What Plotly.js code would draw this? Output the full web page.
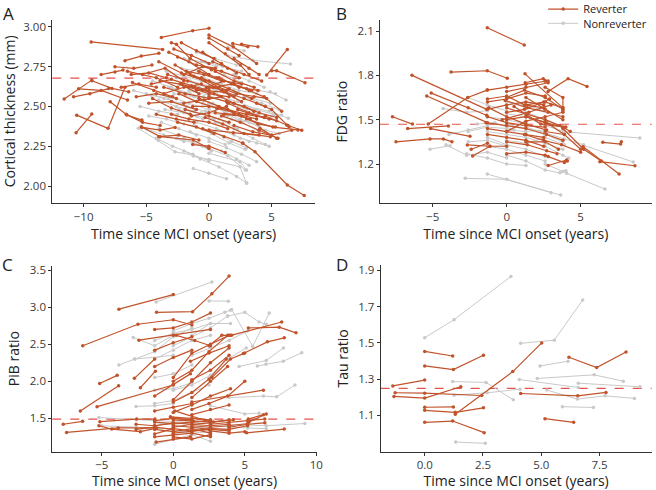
<!DOCTYPE html>
<html>
<head>
<meta charset="utf-8">
<script src="https://cdn.plot.ly/plotly-3.0.1.min.js"></script>
<style>html,body{margin:0;padding:0;background:#fff;}#chart{width:656px;height:490px;}</style>
</head>
<body>
<div id="chart"></div>
<script>
// ---------- DATA (time since MCI onset, value) per participant ----------
const thicknessReverter = [
 [[-9.4,2.905],[-3.7,2.858]],
 [[-3.8,2.933],[-1.3,2.975],[0,2.99]],
 [[-11.55,2.546],[-9.35,2.665]],
 [[-10.8,2.56],[-9.5,2.58],[-8.0,2.612]],
 [[-10.55,2.445],[-8.05,2.362],[-6.7,2.62]],
 [[-10.6,2.335],[-9.35,2.452]],
 [[-10.4,2.61],[-8.6,2.60],[-6.5,2.54]],
 [[-6.7,2.787],[-5.4,2.816],[-4.0,2.833]],
 [[-7.5,2.749],[-6.0,2.739],[-4.55,2.76]],
 [[-8.6,2.70],[-7.5,2.716],[-6.86,2.728]],
 [[-9.34,2.661],[-7.74,2.613],[-6.41,2.592]],
 [[-7.88,2.529],[-6.55,2.446],[-5.35,2.414]],
 [[-5.35,2.368],[-3.9,2.351],[-2.7,2.368]],
 [[-4.0,2.31],[-2.4,2.32],[-0.8,2.289]],
 [[-5.4,2.372],[-3.9,2.31],[-1.25,2.289],[0,2.236]],
 [[-6.5,2.72],[-4.2,2.68],[-2.5,2.62]],
 [[-5.3,2.70],[-3.5,2.74],[-2.0,2.66]],
 [[-6.1,2.65],[-4.4,2.60],[-2.9,2.56]],
 [[-4.5,2.55],[-3.0,2.49],[-1.5,2.45]],
 [[-3.0,2.90],[-2.6,2.89],[-1.5,2.80],[0.2,2.73]],
 [[-3.2,2.84],[-1.6,2.78],[0,2.70]],
 [[-2.7,2.76],[-1.2,2.69],[0.5,2.62],[2.0,2.56]],
 [[-4.0,2.78],[-2.2,2.71],[-0.3,2.66]],
 [[-2.2,2.64],[-0.5,2.60],[1.2,2.59],[2.6,2.53]],
 [[-3.6,2.62],[-1.9,2.58],[0,2.55]],
 [[-1.5,2.70],[0,2.66],[1.6,2.61],[3.4,2.55]],
 [[-0.8,2.55],[0.8,2.50],[2.4,2.45],[3.8,2.42]],
 [[-1.9,2.48],[0,2.44],[1.6,2.40]],
 [[-2.5,2.40],[-1.0,2.37],[0.4,2.33]],
 [[0,2.948],[1.94,2.874],[3.8,2.77]],
 [[1.9,2.895],[3.1,2.874]],
 [[2.6,2.891],[3.9,2.874]],
 [[4.6,2.697],[6.25,2.858]],
 [[5.0,2.724],[5.4,2.724],[7.66,2.648]],
 [[2.0,2.80],[3.2,2.74],[4.0,2.70]],
 [[0.3,2.78],[1.5,2.74],[2.8,2.70],[4.2,2.66]],
 [[-0.5,2.84],[1.0,2.77],[2.2,2.71]],
 [[0,2.90],[1.3,2.83],[2.5,2.76],[3.2,2.70]],
 [[0.8,2.68],[2.4,2.62],[3.9,2.60]],
 [[1.0,2.60],[2.8,2.55],[4.5,2.50]],
 [[1.5,2.52],[3.2,2.46],[4.8,2.42]],
 [[2.3,2.48],[3.8,2.44],[5.4,2.41]],
 [[4.5,2.44],[6.3,2.38]],
 [[4.07,2.362],[5.4,2.30]],
 [[0,2.352],[1.94,2.335],[4.9,2.31]],
 [[2.69,2.268],[3.67,2.215],[6.25,2.006],[7.6,1.94]],
 [[6.2,2.383],[7.4,2.35]],
 [[3.0,2.42],[5.1,2.37],[7.1,2.352]],
 [[-1.3,2.26],[0,2.25],[1.3,2.21]],
 [[-0.3,2.43],[1.1,2.39],[2.8,2.33],[4.0,2.32]],
 [[-1.2,2.62],[0.4,2.58],[2.0,2.52],[3.6,2.47]],
 [[-3.3,2.70],[-1.7,2.66],[0,2.62],[1.4,2.60]],
 [[-4.8,2.52],[-3.0,2.53],[-1.0,2.48]],
 [[-2.0,2.52],[-0.4,2.54],[1.0,2.56]],
 [[0.5,2.72],[2.0,2.66],[3.6,2.62]],
 [[-0.2,2.62],[1.2,2.66],[2.6,2.64]],
 [[-6.6,2.45],[-5.3,2.40],[-3.9,2.38]],
 [[1.2,2.45],[2.6,2.44],[3.9,2.39],[5.3,2.37]],
 [[3.2,2.60],[4.4,2.56],[5.8,2.47]],
 [[-2.5,2.81],[-1.0,2.76],[0.5,2.74]],
 [[-4.6,2.64],[-3.0,2.67],[-1.4,2.63],[0,2.60]],
 [[-2.8,2.86],[-1.4,2.82],[0,2.77]],
 [[-1.8,2.72],[-0.4,2.70],[1.0,2.66]],
 [[-3.6,2.58],[-2.0,2.62],[-0.6,2.64]],
 [[-1.0,2.60],[0.3,2.62],[1.8,2.64],[3.0,2.61]],
 [[-2.4,2.58],[-1.0,2.53],[0.6,2.49],[2.0,2.46]],
 [[-0.6,2.68],[0.8,2.62],[2.2,2.58],[3.6,2.56],[4.6,2.55]],
 [[-1.3,2.50],[0,2.50],[1.5,2.48],[3.0,2.45],[4.4,2.43]],
 [[-3.0,2.45],[-1.6,2.42],[0,2.40],[1.5,2.36]],
 [[-4.2,2.45],[-2.6,2.42],[-1.2,2.40]],
 [[0,2.56],[1.4,2.53],[2.8,2.50],[4.0,2.46],[5.4,2.43]],
 [[1.0,2.44],[2.5,2.40],[4.0,2.35],[5.5,2.30]],
 [[-0.5,2.36],[1.2,2.31],[2.7,2.27]],
 [[-2.0,2.70],[-0.5,2.75],[1.0,2.72],[2.4,2.68]],
 [[-1.6,2.62],[0,2.58],[1.6,2.56]],
 [[-5.8,2.56],[-4.2,2.58],[-2.6,2.55]],
 [[-7.0,2.62],[-5.6,2.64],[-4.2,2.62]],
 [[-6.2,2.70],[-4.8,2.71],[-3.4,2.68]],
 [[-2.2,2.90],[-1.0,2.85],[0.4,2.80]],
 [[0,2.93],[1.5,2.86],[2.4,2.82]],
 [[3.8,2.52],[5.0,2.48],[6.4,2.37]],
 [[2.0,2.38],[3.5,2.34],[5.0,2.32],[6.6,2.35]],
 [[0.5,2.46],[2.0,2.45],[3.3,2.42]],
 [[-0.8,2.72],[0.6,2.68],[2.0,2.64],[3.4,2.60]],
 [[-3.9,2.66],[-2.3,2.64],[-0.8,2.58]],
 [[-1.4,2.44],[0,2.46],[1.4,2.50]]
];
const thicknessNonreverter = [
 [[-5.64,2.362],[-4.04,2.285],[-2.71,2.215],[-1.25,2.194],[0,2.159]],
 [[-1.25,2.11],[0,2.08],[1.4,2.045]],
 [[0,2.205],[2.47,2.153],[3.0,2.10]],
 [[-1.25,2.188],[0,2.167],[2.47,2.121],[3.0,2.017]],
 [[-2.0,2.30],[-0.5,2.25],[1.5,2.19],[2.9,2.10]],
 [[4.87,2.592],[6.15,2.54]],
 [[1.5,2.82],[3.5,2.79],[6.5,2.766]],
 [[3.0,2.50],[4.8,2.47],[6.33,2.425]],
 [[-4.5,2.66],[-3.0,2.62],[-1.5,2.58]],
 [[-5.0,2.58],[-3.6,2.55],[-2.2,2.52]],
 [[-3.5,2.48],[-2.0,2.46],[-0.5,2.42]],
 [[-2.8,2.58],[-1.2,2.56],[0.3,2.52],[1.8,2.47]],
 [[-1.5,2.66],[0,2.63],[1.5,2.58]],
 [[-0.5,2.52],[1.0,2.48],[2.5,2.42],[4.0,2.38]],
 [[0.5,2.40],[2.0,2.36],[3.5,2.30],[4.5,2.26]],
 [[-3.8,2.40],[-2.4,2.36],[-1.0,2.32]],
 [[-2.2,2.74],[-0.8,2.72],[0.8,2.68]],
 [[-1.0,2.84],[0.5,2.80],[2.2,2.76]],
 [[1.2,2.70],[2.6,2.65],[4.0,2.60],[5.3,2.58]],
 [[2.0,2.60],[3.5,2.55],[4.9,2.52]],
 [[3.5,2.46],[5.0,2.44],[5.8,2.446]],
 [[-4.2,2.30],[-2.9,2.25],[-1.3,2.20]],
 [[-1.2,2.38],[0.2,2.33],[1.6,2.27],[2.9,2.23]],
 [[0,2.28],[1.4,2.24],[2.6,2.20],[3.8,2.153]],
 [[-0.6,2.46],[0.8,2.42],[2.3,2.36]],
 [[-6.0,2.60],[-4.6,2.57],[-3.2,2.55]],
 [[-5.5,2.50],[-4.0,2.47],[-2.5,2.45]],
 [[-2.6,2.68],[-1.0,2.64],[0.6,2.60],[2.0,2.57]],
 [[0.8,2.56],[2.3,2.53],[3.8,2.48],[5.2,2.45]],
 [[2.5,2.30],[3.8,2.27],[4.8,2.25]],
 [[-0.3,2.78],[1.1,2.75],[2.6,2.72]],
 [[-1.8,2.50],[-0.3,2.47],[1.2,2.44]],
 [[-4.8,2.44],[-3.4,2.42],[-2.0,2.39]],
 [[1.5,2.87],[2.8,2.85]],
 [[-2.0,2.22],[-0.7,2.17],[0.8,2.12],[2.2,2.06],[3.0,2.02]],
 [[-3.0,2.56],[-1.6,2.52],[0,2.48],[1.5,2.44]],
 [[-2.4,2.48],[-1.0,2.44],[0.4,2.42]],
 [[-4.0,2.54],[-2.6,2.50],[-1.2,2.47]],
 [[-1.6,2.60],[0,2.57],[1.6,2.52],[3.0,2.48]],
 [[0,2.52],[1.3,2.46],[2.7,2.40],[4.0,2.34]],
 [[-3.2,2.62],[-1.8,2.58],[-0.4,2.56]],
 [[-0.8,2.62],[0.6,2.58],[2.0,2.52]],
 [[-5.0,2.36],[-3.6,2.32],[-2.0,2.28]],
 [[-2.6,2.30],[-1.2,2.27],[0.2,2.22]],
 [[0.4,2.34],[1.8,2.28],[3.0,2.24]],
 [[1.0,2.22],[2.2,2.17],[3.2,2.13]],
 [[-0.4,2.68],[1.0,2.64],[2.4,2.60],[3.8,2.58]],
 [[2.0,2.70],[3.2,2.66],[4.4,2.62]],
 [[-2.0,2.80],[-0.6,2.78],[0.6,2.75]],
 [[-1.0,2.40],[0.6,2.36],[2.0,2.32],[3.2,2.28]],
 [[-3.4,2.72],[-2.0,2.69],[-0.6,2.66]],
 [[-4.0,2.36],[-2.5,2.32]],
 [[1.8,2.42],[3.2,2.40],[4.5,2.35],[5.6,2.33]],
 [[-1.5,2.34],[0,2.30],[1.3,2.26]],
 [[2.8,2.56],[4.2,2.52],[5.6,2.48]]
];
const fdgReverter = [
 [[-1.31,2.122],[1.19,2.005]],
 [[-3.76,1.822],[-1.31,1.831],[0.04,1.78]],
 [[-6.4,1.80],[-1.35,1.57]],
 [[-7.72,1.52],[-6.37,1.47]],
 [[-5.3,1.47],[-2.63,1.65],[-1.32,1.70]],
 [[-7.48,1.35],[-5.18,1.37],[-4.28,1.37],[-3.7,1.35]],
 [[-6.69,1.44],[-3.94,1.458]],
 [[-5.4,1.66],[-1.3,1.48]],
 [[-5.1,1.68],[-2.6,1.58],[-1.35,1.53]],
 [[-5.14,1.44],[-2.48,1.387]],
 [[-2.66,1.329],[-1.13,1.32]],
 [[-2.3,1.254],[-1.13,1.32],[0,1.32]],
 [[1.24,1.81],[3.8,1.58]],
 [[1.25,1.75],[2.47,1.777],[2.8,1.761]],
 [[2.8,1.69],[4.15,1.777],[5.43,1.725]],
 [[6.3,1.216],[8.67,1.188]],
 [[5.17,1.317],[7.6,1.132]],
 [[6.5,1.347],[7.7,1.335],[7.75,1.35]],
 [[2.8,1.19],[4.05,1.227]],
 [[-1.3,1.70],[0,1.72],[1.3,1.74],[2.6,1.76]],
 [[-1.3,1.64],[0,1.66],[1.2,1.60],[2.5,1.58]],
 [[-1.2,1.58],[0,1.52],[1.3,1.47],[2.7,1.43]],
 [[-1.4,1.48],[0,1.46],[1.3,1.44],[2.7,1.40],[3.8,1.36]],
 [[-0.1,1.63],[1.4,1.58],[2.8,1.55],[3.8,1.52]],
 [[0,1.55],[1.2,1.57],[2.5,1.62],[2.9,1.64]],
 [[-1.3,1.40],[0,1.38],[1.3,1.36],[2.5,1.32]],
 [[0,1.27],[1.3,1.28],[2.6,1.26]],
 [[1.3,1.65],[2.6,1.57],[3.8,1.50]],
 [[1.3,1.52],[2.6,1.48],[3.8,1.45],[4.3,1.42]],
 [[2.6,1.42],[3.9,1.40],[5.0,1.30]],
 [[0,1.69],[1.3,1.72],[2.8,1.75]],
 [[-1.3,1.57],[0,1.60],[1.3,1.62],[2.5,1.60]],
 [[0,1.42],[1.3,1.49],[2.6,1.52],[3.8,1.55]],
 [[2.8,1.25],[3.9,1.21],[4.1,1.22]],
 [[0,1.35],[1.4,1.33],[2.7,1.29],[3.4,1.27]],
 [[-2.4,1.30],[-1.3,1.34]],
 [[3.8,1.44],[5.2,1.30],[6.4,1.22]],
 [[0.5,1.59],[2.3,1.47],[4.0,1.45]],
 [[-0.3,1.50],[1.5,1.55],[3.0,1.60]],
 [[2.6,1.72],[3.8,1.65],[3.8,1.56]],
 [[1.2,1.40],[2.5,1.36],[3.7,1.33],[5.0,1.28]],
 [[-1.3,1.62],[0,1.64],[1.3,1.68],[2.6,1.66]],
 [[0,1.58],[1.3,1.54],[2.6,1.50],[3.6,1.46]],
 [[-1.3,1.52],[0,1.48],[1.3,1.46],[2.6,1.45]],
 [[0,1.50],[1.3,1.52],[2.7,1.48],[3.9,1.40]],
 [[-1.3,1.44],[0,1.42],[1.3,1.40],[2.5,1.38]],
 [[1.3,1.60],[2.6,1.62],[3.8,1.58]],
 [[0,1.65],[1.2,1.70],[2.6,1.65],[3.8,1.57]],
 [[1.3,1.35],[2.6,1.35],[3.5,1.30]]
];
const fdgNonreverter = [
 [[-2.8,1.103],[0,1.096],[3.0,1.006]],
 [[-1.31,1.132],[3.65,0.99]],
 [[-5.18,1.30],[-3.83,1.324]],
 [[4.05,1.137],[6.64,1.03]],
 [[3.83,1.419],[9.0,1.376]],
 [[5.17,1.327],[8.55,1.214]],
 [[-4.3,1.575],[-2.7,1.55],[-1.3,1.56]],
 [[-3.9,1.40],[-2.6,1.43],[-1.3,1.46]],
 [[-4.1,1.33],[-2.7,1.26],[-1.3,1.28],[0,1.24]],
 [[-2.7,1.27],[-1.3,1.24],[0,1.20],[1.3,1.19]],
 [[-1.3,1.38],[0,1.33],[1.3,1.30],[2.6,1.25]],
 [[0,1.47],[1.3,1.44],[2.6,1.40],[3.8,1.35]],
 [[-1.3,1.52],[0,1.50],[1.3,1.47]],
 [[0,1.26],[1.3,1.22],[2.6,1.16],[3.6,1.14]],
 [[1.3,1.36],[2.6,1.32],[3.8,1.26],[4.2,1.24]],
 [[0,1.62],[1.3,1.60],[2.5,1.56]],
 [[1.3,1.55],[2.6,1.50],[3.9,1.44]],
 [[-2.6,1.35],[-1.3,1.36],[0,1.32]],
 [[2.6,1.20],[3.8,1.15],[4.0,1.155]],
 [[-2.0,1.47],[-0.8,1.48],[0.5,1.43]],
 [[0,1.36],[1.3,1.34],[2.6,1.38],[3.9,1.33]],
 [[-2.6,1.65],[-1.3,1.60],[0,1.56]],
 [[-1.3,1.42],[0,1.40],[1.3,1.38],[2.6,1.34],[3.8,1.30]],
 [[0,1.54],[1.3,1.52],[2.6,1.46],[3.9,1.42]],
 [[-1.3,1.32],[0,1.30],[1.3,1.26],[2.6,1.22]],
 [[0,1.43],[1.3,1.42],[2.6,1.43]],
 [[-2.6,1.42],[-1.3,1.45],[0,1.44]],
 [[1.3,1.45],[2.6,1.41],[3.9,1.37],[5.2,1.33]]
];
const pibReverter = [
 [[-6.33,2.48],[-2.47,2.77],[0,2.83],[1.3,2.76]],
 [[-3.8,2.973],[0,3.17]],
 [[-1.17,2.93],[1.35,2.94],[2.7,3.18],[3.9,3.42]],
 [[-6.5,1.60],[-3.82,1.94]],
 [[-5.15,1.97],[-3.92,2.08]],
 [[-5.33,1.657],[0,1.95]],
 [[-2.72,2.04],[-1.3,2.30]],
 [[-2.3,1.913],[-1.25,2.137]],
 [[-2.4,2.555],[0,2.62],[2.6,2.70]],
 [[-7.69,1.42],[-6.34,1.46]],
 [[-7.46,1.31],[-3.85,1.37],[-1.17,1.37]],
 [[-5.13,1.455],[-2.56,1.49],[-1.28,1.49]],
 [[-5.2,1.40],[-4.3,1.355],[-2.3,1.32],[-1.25,1.365]],
 [[5.25,2.72],[7.41,2.73],[8.58,2.654]],
 [[4.08,2.622],[7.58,2.80]],
 [[4.9,2.376],[6.58,2.532],[7.76,2.586]],
 [[5.13,1.305],[7.76,1.355]],
 [[5.25,1.49],[6.3,1.55]],
 [[1.3,1.72],[6.3,1.88]],
 [[0,2.05],[1.3,2.38],[2.6,2.50],[3.9,2.62]],
 [[-1.3,2.2],[0,2.32],[1.3,2.42]],
 [[0,1.75],[1.3,2.0],[2.6,2.25],[3.9,2.45]],
 [[0,2.00],[1.3,2.15],[2.5,2.4],[3.8,2.62]],
 [[1.3,1.78],[2.6,2.0],[3.8,2.2]],
 [[0,1.72],[1.3,1.85],[2.5,2.03],[3.7,2.3]],
 [[-1.3,1.80],[0,1.96],[1.2,2.1]],
 [[2.5,2.48],[3.4,2.62],[4.0,2.62]],
 [[1.3,1.62],[2.5,1.70],[3.8,1.80],[5.0,2.0]],
 [[0,1.58],[1.3,1.68],[2.6,1.80],[4.0,1.90]],
 [[2.7,2.05],[4.0,2.30],[5.0,2.38]],
 [[1.3,1.55],[2.6,1.62],[3.9,1.68]],
 [[0.1,1.60],[2.6,1.45],[3.9,1.48]],
 [[-1.3,1.60],[0,1.65],[1.3,1.70]],
 [[-1.3,2.7],[0,2.72],[1.3,2.80],[2.6,2.92]],
 [[0.2,2.62],[1.5,2.55],[2.6,2.48]],
 [[1.2,2.27],[2.5,2.38],[3.9,2.48]],
 [[-1.3,1.45],[0,1.43],[1.3,1.45],[2.6,1.47]],
 [[-1.3,1.35],[0,1.32],[1.3,1.36],[2.6,1.30]],
 [[-1.3,1.25],[0,1.28],[1.3,1.30],[2.6,1.25]],
 [[-1.2,1.18],[0,1.22],[1.2,1.25]],
 [[0,1.38],[1.3,1.42],[2.6,1.40],[3.9,1.42]],
 [[-2.6,1.42],[-1.3,1.40],[0,1.43]],
 [[0,1.48],[1.4,1.46],[2.8,1.45],[4.2,1.48]],
 [[1.3,1.33],[2.6,1.36],[3.9,1.35],[5.2,1.40]],
 [[2.6,1.42],[3.9,1.45],[5.2,1.47],[6.4,1.49]],
 [[0,1.40],[1.3,1.38],[2.5,1.35]],
 [[-1.3,1.29],[0,1.36],[1.3,1.33]],
 [[3.9,1.38],[5.2,1.42],[6.4,1.44]],
 [[5.3,1.45],[6.5,1.56]],
 [[-0.2,1.52],[1.3,1.50],[2.6,1.48]],
 [[-1.3,1.40],[0,1.44],[1.3,1.42],[2.6,1.44]],
 [[0,1.30],[1.3,1.32],[2.6,1.35],[3.9,1.33]],
 [[-1.3,1.47],[0,1.50],[1.3,1.48]],
 [[1.3,1.40],[2.6,1.38],[3.9,1.40],[5.2,1.43]],
 [[0,1.25],[1.3,1.22],[2.6,1.28]],
 [[-2.6,1.35],[-1.3,1.38],[0,1.35]],
 [[2.6,1.33],[3.9,1.30],[5.0,1.32]],
 [[-1.3,2.42],[0,2.52],[1.3,2.60]],
 [[1.3,2.02],[2.6,2.15],[3.9,2.35]]
];
const pibNonreverter = [
 [[-1.2,3.07],[2.7,3.34]],
 [[2.5,3.085],[3.85,3.08]],
 [[-3.8,2.22],[-2.7,2.30],[0,2.35]],
 [[-2.8,2.59],[-1.3,2.48],[0,2.62]],
 [[-2.7,2.30],[-1.3,2.40],[0,2.60],[1.3,2.72]],
 [[-1.3,2.55],[0,2.65],[1.3,2.70],[2.6,2.78]],
 [[0,2.68],[1.3,2.78],[2.5,2.85],[3.6,2.93],[4.0,2.96]],
 [[1.3,2.62],[2.6,2.78],[4.0,2.78]],
 [[3.8,2.88],[5.0,2.93],[6.0,2.80],[6.5,2.77]],
 [[4.08,2.97],[5.55,2.47],[6.71,2.92]],
 [[4.6,2.2],[6.5,2.28],[7.7,2.45]],
 [[5.88,2.205],[6.48,2.23],[7.69,2.27],[8.98,2.385]],
 [[3.9,1.78],[6.3,1.80],[7.23,1.79],[8.51,1.95]],
 [[2.6,1.67],[5.0,1.56],[6.0,1.57]],
 [[-5.2,1.51],[-2.6,1.48],[0,1.45],[2.6,1.43]],
 [[3.8,1.42],[6.5,1.40],[9.2,1.43]],
 [[-1.3,1.15],[0,1.22],[1.3,1.28],[2.6,1.19]],
 [[-1.3,1.70],[0,1.74],[1.3,1.85],[2.5,1.95]],
 [[-1.3,2.05],[0,2.10],[1.3,2.22]],
 [[0,1.88],[1.3,1.95],[2.6,2.08],[3.8,2.30],[5.1,2.45]],
 [[-2.6,1.66],[-1.3,1.67],[0,1.70]],
 [[1.3,2.35],[2.6,2.45],[3.9,2.55],[5.2,2.68]],
 [[2.6,1.40],[3.9,1.38],[5.2,1.37],[6.5,1.36]],
 [[0,1.34],[1.3,1.30],[2.6,1.32]],
 [[-1.3,2.30],[0,2.42],[1.3,2.55],[2.6,2.62]],
 [[0,2.48],[1.3,2.60],[2.6,2.72],[3.8,2.88]],
 [[-1.3,1.88],[0,1.90],[1.3,1.98]],
 [[0,1.40],[1.3,1.38],[2.6,1.37],[3.9,1.35]],
 [[-1.3,1.44],[0,1.42],[1.3,1.44]],
 [[-5.0,1.40],[-2.6,1.38],[0,1.36]]
];
const tauReverter = [
 [[0,1.453],[1.2,1.428]],
 [[0,1.373],[1.23,1.353],[2.52,1.432]],
 [[-1.37,1.263],[0,1.295]],
 [[-1.27,1.225],[0,1.223],[2.45,1.21]],
 [[-1.32,1.205],[0,1.196],[1.55,1.258]],
 [[0,1.145],[1.23,1.147]],
 [[0,1.128],[1.31,1.117],[2.52,1.142]],
 [[0,1.062],[1.2,1.069],[2.55,1.005]],
 [[1.31,1.106],[3.78,1.342],[5.02,1.50]],
 [[6.19,1.421],[7.38,1.364],[8.64,1.45]],
 [[4.12,1.221],[6.57,1.208],[7.78,1.227]],
 [[5.16,1.082],[6.39,1.062]]
];
const tauNonreverter = [
 [[0,1.529],[1.26,1.628],[3.7,1.867]],
 [[4.12,1.498],[5.56,1.515],[6.78,1.737]],
 [[4.95,1.373],[6.15,1.399]],
 [[4.83,1.304],[7.27,1.324],[8.52,1.289]],
 [[4.06,1.298],[6.59,1.254]],
 [[6.59,1.278],[9.24,1.258]],
 [[5.24,1.24],[6.55,1.19],[7.74,1.208],[9.0,1.194]],
 [[5.91,1.148],[7.24,1.144]],
 [[1.2,1.287],[2.63,1.282],[3.8,1.186]],
 [[1.26,1.212],[2.69,1.225],[4.09,1.245]],
 [[1.33,0.953],[2.6,0.946]]
];
const thresholds = [2.678, 1.469, 1.49, 1.249];
const yTitles = ["Cortical thickness (mm)", "FDG ratio", "PiB ratio", "Tau ratio"];
const panelLabels = ["A", "B", "C", "D"];
const xTickVals = [[-10,-5,0,5],[-5,0,5],[-5,0,5,10],[0,2.5,5,7.5]];
const xTickText = [["−10","−5","0","5"],["−5","0","5"],["−5","0","5","10"],["0.0","2.5","5.0","7.5"]];
const yTickVals = [[2.0,2.25,2.5,2.75,3.0],[1.2,1.5,1.8,2.1],[1.5,2.0,2.5,3.0,3.5],[1.1,1.3,1.5,1.7,1.9]];
const yTickText = [["2.00","2.25","2.50","2.75","3.00"],["1.2","1.5","1.8","2.1"],["1.5","2.0","2.5","3.0","3.5"],["1.1","1.3","1.5","1.7","1.9"]];

// ---------- STYLE ----------
const ORANGE = "#C1532B";
const GREY = "#C9C9C9";
const FONT = "Open Sans, Noto Sans, sans-serif";

function flatten(subjects) {
  const xs = [], ys = [];
  subjects.forEach(s => { s.forEach(p => { xs.push(p[0]); ys.push(p[1]); }); xs.push(null); ys.push(null); });
  return {xs, ys};
}

const panels = [
  {rev: thicknessReverter, non: thicknessNonreverter},
  {rev: fdgReverter, non: fdgNonreverter},
  {rev: pibReverter, non: pibNonreverter},
  {rev: tauReverter, non: tauNonreverter}
];

const traces = [];
panels.forEach((p, i) => {
  const ax = i === 0 ? "" : String(i + 1);
  const g = flatten(p.non);
  traces.push({
    type: "scatter", mode: "lines+markers", x: g.xs, y: g.ys,
    xaxis: "x" + ax, yaxis: "y" + ax, connectgaps: false,
    name: "Nonreverter", legend: "legend2", showlegend: i === 1,
    line: {color: GREY, width: 1}, marker: {color: GREY, size: 3.5},
    hoverinfo: "skip"
  });
});
panels.forEach((p, i) => {
  const ax = i === 0 ? "" : String(i + 1);
  const o = flatten(p.rev);
  traces.push({
    type: "scatter", mode: "lines+markers", x: o.xs, y: o.ys,
    xaxis: "x" + ax, yaxis: "y" + ax, connectgaps: false,
    name: "Reverter", legend: "legend", showlegend: i === 1,
    line: {color: ORANGE, width: 1.2}, marker: {color: ORANGE, size: 3.5},
    hoverinfo: "skip"
  });
});

// panel geometry (fractions of paper)
const xDomains = [[0.0797,0.4802],[0.5793,0.9934],[0.0797,0.4828],[0.5803,0.9934]];
const yDomains = [[0.5863,0.959],[0.5851,0.959],[0.0782,0.4578],[0.0782,0.4592]];
const xRanges = [[-12.5,8.46],[-8.56,9.8],[-8.46,10.03],[-1.89,9.74]];
const yRanges = [[1.895,3.042],[0.934,2.174],[1.05,3.56],[0.9,1.93]];
const labelPos = [[0.0122,1.0],[0.521,1.0],[0.0107,0.487],[0.521,0.487]];

const legendBase = {xanchor: "left", yanchor: "top", font: {size: 11, color: "#222", family: FONT}, bgcolor: "rgba(0,0,0,0)", borderwidth: 0};
const layout = {
  width: 656, height: 490,
  margin: {l: 0, r: 0, t: 0, b: 0, pad: 0, autoexpand: false},
  paper_bgcolor: "#fff", plot_bgcolor: "#fff",
  font: {family: FONT, color: "#222", size: 12},
  showlegend: true,
  legend: Object.assign({x: 0.828, y: 1.011}, legendBase),
  legend2: Object.assign({x: 0.828, y: 0.982}, legendBase),
  shapes: [], annotations: []
};

for (let i = 0; i < 4; i++) {
  const ax = i === 0 ? "" : String(i + 1);
  const axisBase = {
    showgrid: false, zeroline: false, showline: true, linecolor: "#333", linewidth: 1,
    ticks: "outside", ticklen: 3, tickwidth: 1, tickcolor: "#333", automargin: false,
    tickfont: {size: 11.5, color: "#3a3a3a", family: FONT}
  };
  layout["xaxis" + ax] = Object.assign({}, axisBase, {
    domain: xDomains[i], range: xRanges[i], anchor: "y" + ax,
    tickmode: "array", tickvals: xTickVals[i], ticktext: xTickText[i],
    title: {text: "Time since MCI onset (years)", font: {size: 14, color: "#222", family: FONT}, standoff: 4}
  });
  layout["yaxis" + ax] = Object.assign({}, axisBase, {
    domain: yDomains[i], range: yRanges[i], anchor: "x" + ax,
    tickmode: "array", tickvals: yTickVals[i], ticktext: yTickText[i],
    title: {text: yTitles[i], font: {size: 14, color: "#222", family: FONT}, standoff: 6}
  });
  layout.shapes.push({
    type: "line", xref: "x" + ax + " domain", x0: 0, x1: 1,
    yref: "y" + ax, y0: thresholds[i], y1: thresholds[i],
    line: {color: "#E4534B", width: 1.2, dash: "dash"}, layer: "below"
  });
  layout.annotations.push({
    xref: "paper", yref: "paper", x: labelPos[i][0], y: labelPos[i][1],
    xanchor: "center", yanchor: "top", showarrow: false,
    text: panelLabels[i], font: {size: 17, color: "#222", family: FONT}
  });
}

Plotly.newPlot("chart", traces, layout, {displayModeBar: false, staticPlot: true});
</script>
</body>
</html>
